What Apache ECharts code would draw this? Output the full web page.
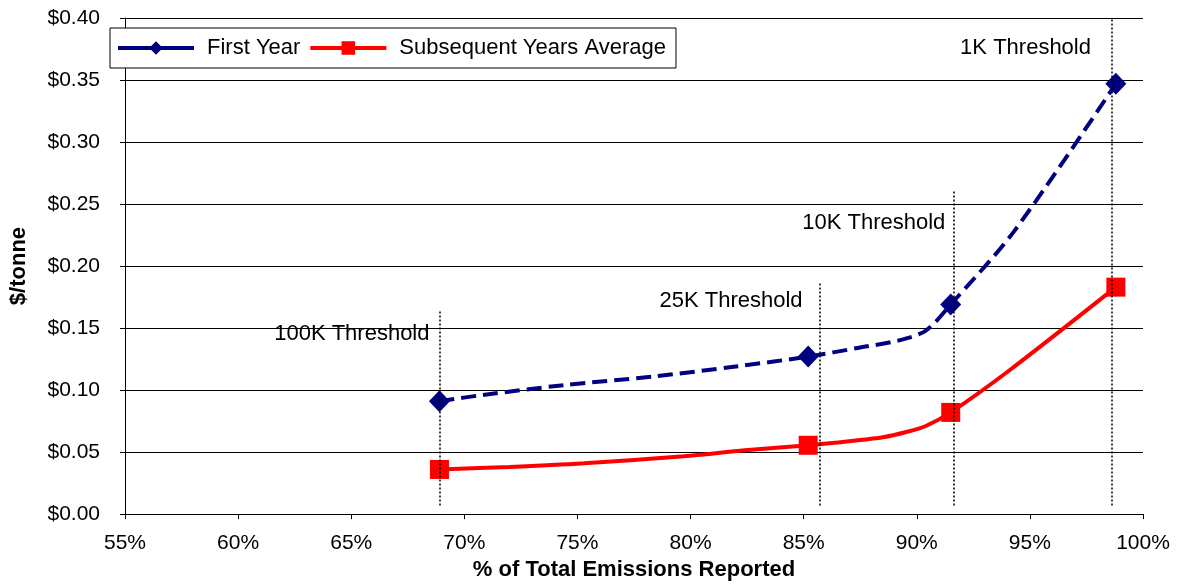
<!DOCTYPE html>
<html>
<head>
<meta charset="utf-8">
<script src="https://cdn.jsdelivr.net/npm/echarts@6/dist/echarts.min.js"></script>
<style>
  html, body { margin: 0; padding: 0; background: #fff; }
  #chart { width: 1178px; height: 586px; }
</style>
</head>
<body>
<div id="chart"></div>
<script>
// curve points; markers only at the threshold points
const firstYearPct = [68.9, 70.8, 74.4, 78.4, 82.0, 85.2, 87.4, 89.2, 90.4, 91.5, 94.3, 98.8];
const firstYearCost = [0.091, 0.096, 0.104, 0.111, 0.119, 0.127, 0.134, 0.140, 0.148, 0.169, 0.228, 0.347];
const firstYearMarked = [68.9, 85.2, 91.5, 98.8];

const subsequentPct = [68.9, 72.0, 75.3, 79.7, 82.4, 85.2, 87.1, 88.5, 89.5, 90.4, 91.5, 94.1, 98.8];
const subsequentCost = [0.036, 0.038, 0.041, 0.0466, 0.0514, 0.0555, 0.059, 0.062, 0.066, 0.071, 0.082, 0.116, 0.183];
const subsequentMarked = [68.9, 85.2, 91.5, 98.8];

// dotted threshold lines and their captions
const thresholdNames = ['100K Threshold', '25K Threshold', '10K Threshold', '1K Threshold'];
const thresholdPct = [68.9, 85.7, 91.65, 98.6];
const thresholdBottom = [0.007, 0.007, 0.007, 0.007];
const thresholdTop = [0.164, 0.187, 0.261, 0.4];
const labelPct = [68.46, 84.95, 91.26, 97.7];
const labelCost = [0.1454, 0.172, 0.235, 0.376];

const xTicks = { min: 55, max: 100, step: 5 };
const yTicks = { min: 0, max: 0.4, step: 0.05 };

const buildLine = (xs, ys, marked) => xs.map((x, i) => {
    let item = { value: [x, ys[i]] };
    if (marked.indexOf(x) < 0) item.symbol = 'none';
    return item;
});

const font = 'Liberation Sans, Arial, sans-serif';

let option = {
    animation: false,
    textStyle: { fontFamily: font },
    grid: { left: 123, right: 35, top: 18, bottom: 70 },
    legend: {
        left: 110,
        top: 28,
        padding: [9, 10, 9, 6],
        itemGap: 8,
        itemWidth: 76,
        itemHeight: 17,
        borderColor: '#000',
        borderWidth: 1,
        borderRadius: 0,
        backgroundColor: '#fff',
        lineStyle: { width: 4, type: 'solid' },
        textStyle: { fontSize: 22, color: '#000', fontFamily: font, padding: [0, 0, 0, 8] },
        data: ['First Year', 'Subsequent Years Average']
    },
    xAxis: {
        type: 'value',
        min: xTicks.min,
        max: xTicks.max,
        interval: xTicks.step,
        name: '% of Total Emissions Reported',
        nameLocation: 'middle',
        nameGap: 44,
        nameTextStyle: { fontSize: 22, fontWeight: 'bold', color: '#000', fontFamily: font },
        axisLine: { lineStyle: { color: '#000', width: 1 } },
        axisTick: { show: true, length: 5, lineStyle: { color: '#000' } },
        axisLabel: {
            fontSize: 21, color: '#000', margin: 19,
            formatter: v => v + '%'
        },
        splitLine: { show: false }
    },
    yAxis: {
        type: 'value',
        min: yTicks.min,
        max: yTicks.max,
        interval: yTicks.step,
        name: '$/tonne',
        nameLocation: 'middle',
        nameGap: 95,
        nameTextStyle: { fontSize: 22, fontWeight: 'bold', color: '#000', fontFamily: font },
        axisLine: { show: true, lineStyle: { color: '#000', width: 1 } },
        axisTick: { show: true, length: 5, lineStyle: { color: '#000' } },
        axisLabel: {
            fontSize: 21, color: '#000', margin: 25,
            formatter: v => '$' + v.toFixed(2)
        },
        splitLine: { show: true, lineStyle: { color: '#000', width: 1 } }
    },
    series: [
        {
            name: 'Thresholds',
            type: 'scatter',
            silent: true,
            symbolSize: 0,
            itemStyle: { opacity: 1 },
            data: labelPct.map((x, i) => ({ value: [x, labelCost[i]], name: thresholdNames[i] })),
            label: {
                show: true,
                position: 'left',
                distance: 0,
                formatter: p => p.name,
                fontSize: 22,
                color: '#000',
                fontFamily: font
            },
            markLine: {
                silent: true,
                symbol: ['none', 'none'],
                label: { show: false },
                lineStyle: { color: '#000', width: 1.5, type: [2, 2], opacity: 1 },
                data: thresholdPct.map((x, i) => [
                    { coord: [x, thresholdBottom[i]] },
                    { coord: [x, thresholdTop[i]] }
                ])
            },
            z: 1
        },
        {
            name: 'Subsequent Years Average',
            type: 'line',
            smooth: 0.3,
            symbol: 'rect',
            symbolSize: 19,
            color: '#ff0000',
            itemStyle: { color: '#ff0000' },
            lineStyle: { color: '#ff0000', width: 4 },
            data: buildLine(subsequentPct, subsequentCost, subsequentMarked),
            z: 3
        },
        {
            name: 'First Year',
            type: 'line',
            smooth: 0.3,
            symbol: 'diamond',
            symbolSize: [21, 22],
            color: '#000080',
            itemStyle: { color: '#000080' },
            lineStyle: { color: '#000080', width: 4, type: [15, 7] },
            data: buildLine(firstYearPct, firstYearCost, firstYearMarked),
            z: 4
        }
    ]
};

let myChart = echarts.init(document.getElementById('chart'));
option && myChart.setOption(option);
</script>
</body>
</html>
